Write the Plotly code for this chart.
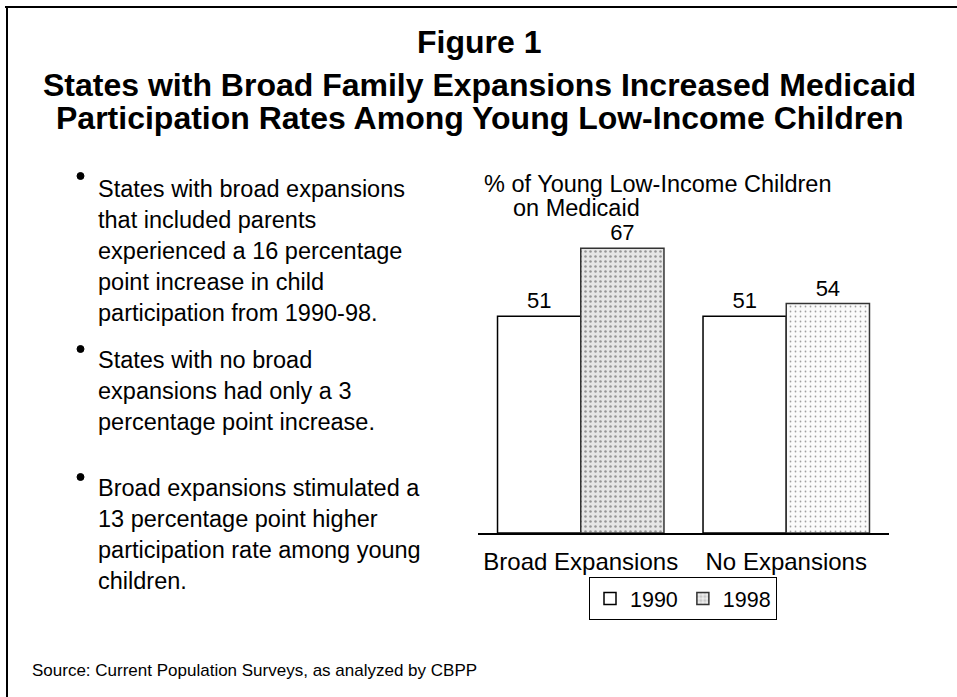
import plotly.graph_objects as go

# ---- data ----
categories = ["Broad Expansions", "No Expansions"]
years = ["1990", "1998"]
values_1990 = [51, 51]
values_1998 = [67, 54]

title_lines = [
    "Figure 1",
    "States with Broad Family Expansions Increased Medicaid",
    "Participation Rates Among Young Low-Income Children",
]
bullet_blocks = [
    ["States with broad expansions", "that included parents",
     "experienced a 16 percentage", "point increase in child",
     "participation from 1990-98."],
    ["States with no broad", "expansions had only a 3",
     "percentage point increase."],
    ["Broad expansions stimulated a", "13 percentage point higher",
     "participation rate among young", "children."],
]
axis_title_lines = ["% of Young Low-Income Children", "on Medicaid"]
source_text = "Source: Current Population Surveys, as analyzed by CBPP"

# ---- layout geometry (pixels) ----
W, H = 957, 697
L, R, T, B = 478, 68, 214, 164
PW, PH = W - L - R, H - T - B
PX_PER_UNIT = 4.25
FONT = "Liberation Sans, Arial, Helvetica, sans-serif"


def px(x):
    return (x - L) / PW


def py(y):
    return (H - B - y) / PH


fig = go.Figure()
fig.add_trace(go.Bar(
    name=years[0], x=categories, y=values_1990,
    marker=dict(color="white", line=dict(color="black", width=1.5)),
    text=values_1990, textposition="outside",
    textfont=dict(size=22, color="black", family=FONT),
    cliponaxis=False,
))
fig.add_trace(go.Bar(
    name=years[1], x=categories, y=values_1998,
    marker=dict(
        color=["#e6e6e6", "#fbfbfb"],
        line=dict(color="#333333", width=1.5),
        pattern=dict(shape=".", fgcolor=["#a0a0a0", "#d2d2d2"],
                     bgcolor=["#eeeeee", "#fcfcfc"], size=5,
                     solidity=[0.2, 0.1]),
    ),
    text=values_1998, textposition="outside",
    textfont=dict(size=22, color="black", family=FONT),
    cliponaxis=False,
))

annotations = []
# title
for txt, yc in zip(title_lines, [42, 85, 118]):
    annotations.append(dict(text="<b>%s</b>" % txt, x=px(479), y=py(yc),
                            xref="paper", yref="paper", xanchor="center",
                            yanchor="middle", showarrow=False,
                            font=dict(size=32, color="black", family=FONT)))
# bullets (text)
block_starts = [189, 360, 488]
bullet_y = [176, 349, 477]
for block, y0 in zip(bullet_blocks, block_starts):
    for i, line in enumerate(block):
        annotations.append(dict(text=line, x=px(96), y=py(y0 + 31 * i),
                                xref="paper", yref="paper", xanchor="left",
                                yanchor="middle", showarrow=False,
                                font=dict(size=23.5, color="black", family=FONT)))
# axis title
for txt, xl, yc in zip(axis_title_lines, [482, 511], [184, 208]):
    annotations.append(dict(text=txt, x=px(xl), y=py(yc),
                            xref="paper", yref="paper", xanchor="left",
                            yanchor="middle", showarrow=False,
                            font=dict(size=23.5, color="black", family=FONT)))
# source
annotations.append(dict(text=source_text, x=px(30), y=py(670),
                        xref="paper", yref="paper", xanchor="left",
                        yanchor="middle", showarrow=False,
                        font=dict(size=17, color="black", family=FONT)))

shapes = [
    dict(type="line", xref="paper", yref="paper", x0=px(5), x1=px(957),
         y0=py(7), y1=py(7), line=dict(color="black", width=2)),
    dict(type="line", xref="paper", yref="paper", x0=px(7), x1=px(7),
         y0=py(7), y1=py(697), line=dict(color="black", width=2)),
]
for by in bullet_y:
    shapes.append(dict(type="circle", xref="paper", yref="paper",
                       x0=px(77), x1=px(84), y0=py(by - 3.5), y1=py(by + 3.5),
                       fillcolor="black", line=dict(color="black", width=1)))

fig.update_layout(
    width=W, height=H,
    margin=dict(l=L, r=R, t=T, b=B, autoexpand=False),
    paper_bgcolor="white", plot_bgcolor="white",
    barmode="group", bargap=0.19, bargroupgap=0,
    font=dict(family=FONT, color="black", size=24),
    showlegend=True,
    legend=dict(orientation="h", x=px(683), y=py(577), xanchor="center",
                yanchor="top", bordercolor="black", borderwidth=1,
                font=dict(size=21.5, color="black", family=FONT),
                itemwidth=30, tracegroupgap=0),
    xaxis=dict(showline=True, linecolor="black", linewidth=1.5,
               ticks="", showgrid=False, zeroline=False,
               ticklabelstandoff=6,
               tickfont=dict(size=24, color="black", family=FONT)),
    yaxis=dict(range=[0, PH / PX_PER_UNIT], visible=False, showgrid=False,
               zeroline=False),
    annotations=annotations,
    shapes=shapes,
)

fig.write_html("out.html", config={"displayModeBar": False},
               post_script="document.body.style.margin='0';document.body.style.overflow='hidden';")
